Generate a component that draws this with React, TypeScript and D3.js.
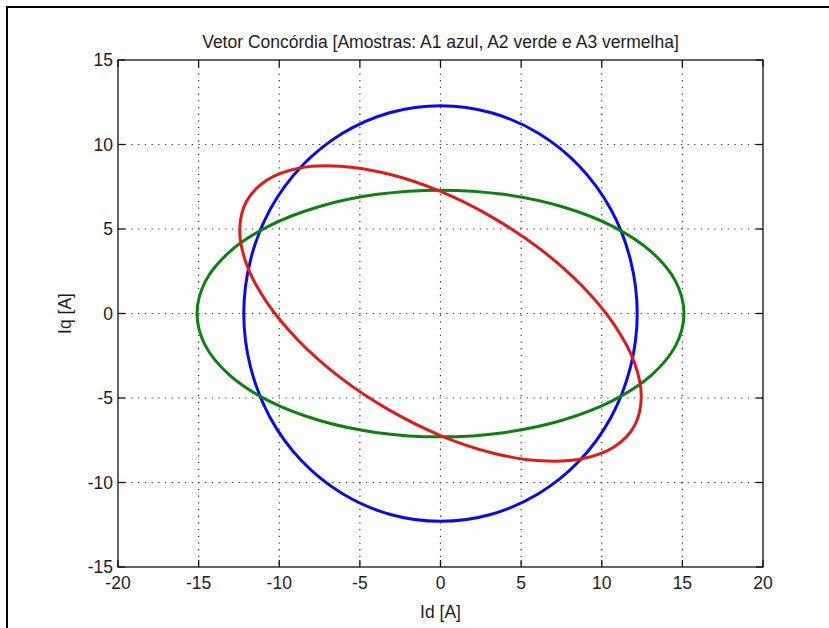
import React from "react";
import * as d3 from "d3";

// Concordia vector loci (Id, Iq in amperes), sampled around one period
const a1Id = [12.2, 11.78, 10.57, 8.63, 6.1, 3.16, 0, -3.16, -6.1, -8.63, -10.57, -11.78, -12.2, -11.78, -10.57, -8.63, -6.1, -3.16, 0, 3.16, 6.1, 8.63, 10.57, 11.78];
const a1Iq = [0, 3.18, 6.15, 8.7, 10.65, 11.88, 12.3, 11.88, 10.65, 8.7, 6.15, 3.18, 0, -3.18, -6.15, -8.7, -10.65, -11.88, -12.3, -11.88, -10.65, -8.7, -6.15, -3.18];

const a2Id = [15.1, 14.59, 13.08, 10.68, 7.55, 3.91, 0, -3.91, -7.55, -10.68, -13.08, -14.59, -15.1, -14.59, -13.08, -10.68, -7.55, -3.91, 0, 3.91, 7.55, 10.68, 13.08, 14.59];
const a2Iq = [0, 1.89, 3.65, 5.16, 6.32, 7.05, 7.3, 7.05, 6.32, 5.16, 3.65, 1.89, 0, -1.89, -3.65, -5.16, -6.32, -7.05, -7.3, -7.05, -6.32, -5.16, -3.65, -1.89];

const a3Id = [12.45, 12.03, 10.78, 8.8, 6.23, 3.22, 0, -3.22, -6.23, -8.8, -10.78, -12.03, -12.45, -12.03, -10.78, -8.8, -6.23, -3.22, 0, 3.22, 6.23, 8.8, 10.78, 12.03];
const a3Iq = [-4.94, -2.91, -0.67, 1.61, 3.78, 5.69, 7.22, 8.25, 8.72, 8.6, 7.89, 6.64, 4.94, 2.91, 0.67, -1.61, -3.78, -5.69, -7.22, -8.25, -8.72, -8.6, -7.89, -6.64];

const xTicks = [-20, -15, -10, -5, 0, 5, 10, 15, 20];
const yTicks = [-15, -10, -5, 0, 5, 10, 15];

const series = [
  { name: "A1", id: a1Id, iq: a1Iq, color: "#0a0ae6" },
  { name: "A2", id: a2Id, iq: a2Iq, color: "#0f7f14" },
  { name: "A3", id: a3Id, iq: a3Iq, color: "#dc1c1c" },
];

const W = 829;
const H = 628;
const left = 118;
const right = 763;
const top = 60;
const bottom = 567;
const font = "'Liberation Sans', Arial, sans-serif";
const textColor = "#1c1c1c";
const fs = 17.5;

export default function App() {
  const x = d3.scaleLinear().domain([-20, 20]).range([left, right]);
  const y = d3.scaleLinear().domain([-15, 15]).range([bottom, top]);
  const line = d3
    .line<[number, number]>()
    .x((d) => x(d[0]))
    .y((d) => y(d[1]))
    .curve(d3.curveCatmullRomClosed.alpha(0.5));

  const tickLen = 7;

  return (
    <svg
      width={W}
      height={H}
      style={{ position: "absolute", left: 0, top: 0, background: "#fff" }}
      fontFamily={font}
    >
      <rect x={0} y={0} width={W} height={H} fill="#fff" />
      {/* outer frame */}
      <line x1={6} y1={7} x2={W} y2={7} stroke="#000" strokeWidth={2} />
      <line x1={7} y1={6} x2={7} y2={H} stroke="#000" strokeWidth={2} />

      {/* grid */}
      <g stroke="#3a3a3a" strokeWidth={1.2} strokeDasharray="1.3 5.4">
        {xTicks.slice(1, -1).map((t) => (
          <line key={"gx" + t} x1={x(t)} x2={x(t)} y1={top} y2={bottom} />
        ))}
        {yTicks.slice(1, -1).map((t) => (
          <line key={"gy" + t} x1={left} x2={right} y1={y(t)} y2={y(t)} />
        ))}
      </g>

      {/* loci */}
      {series.map((s) => (
        <path
          key={s.name}
          d={line(s.id.map((v, i) => [v, s.iq[i]] as [number, number])) || ""}
          fill="none"
          stroke={s.color}
          strokeWidth={3}
        />
      ))}

      {/* axes box and ticks */}
      <rect x={left} y={top} width={right - left} height={bottom - top} fill="none" stroke="#111" strokeWidth={1.3} />
      <g stroke="#111" strokeWidth={1.3}>
        {xTicks.map((t) => (
          <g key={"tx" + t}>
            <line x1={x(t)} x2={x(t)} y1={bottom} y2={bottom - tickLen} />
            <line x1={x(t)} x2={x(t)} y1={top} y2={top + tickLen} />
          </g>
        ))}
        {yTicks.map((t) => (
          <g key={"ty" + t}>
            <line x1={left} x2={left + tickLen} y1={y(t)} y2={y(t)} />
            <line x1={right} x2={right - tickLen} y1={y(t)} y2={y(t)} />
          </g>
        ))}
      </g>

      {/* tick labels */}
      <g fill={textColor} fontSize={fs}>
        {xTicks.map((t) => (
          <text key={"lx" + t} x={x(t)} y={bottom + 22} textAnchor="middle">
            {t}
          </text>
        ))}
        {yTicks.map((t) => (
          <text key={"ly" + t} x={left - 5} y={y(t) + 6.3} textAnchor="end">
            {t}
          </text>
        ))}
      </g>

      {/* axis labels and title */}
      <text x={(left + right) / 2} y={618} textAnchor="middle" fontSize={fs} fill={textColor}>
        Id [A]
      </text>
      <text
        transform={`translate(71, ${(top + bottom) / 2}) rotate(-90)`}
        textAnchor="middle"
        fontSize={fs}
        fill={textColor}
      >
        Iq [A]
      </text>
      <text x={(left + right) / 2} y={48} textAnchor="middle" fontSize={fs} fill={textColor}>
        Vetor Concórdia [Amostras: A1 azul, A2 verde e A3 vermelha]
      </text>
    </svg>
  );
}
